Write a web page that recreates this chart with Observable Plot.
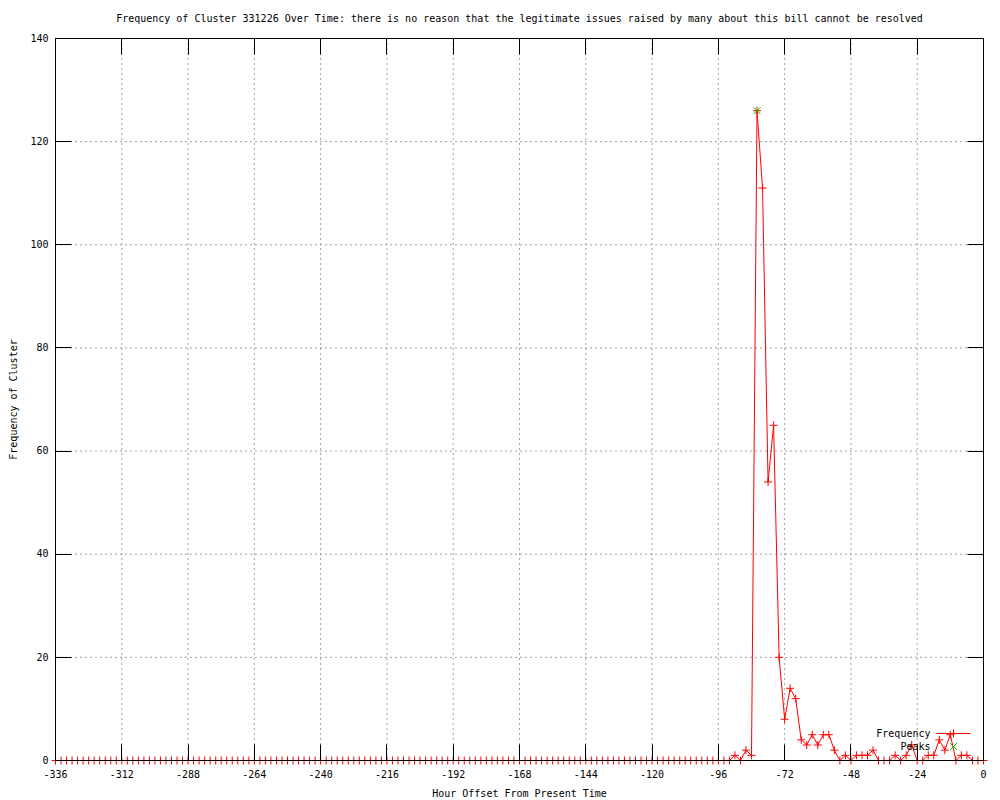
<!DOCTYPE html>
<html>
<head>
<meta charset="utf-8">
<script src="https://cdn.jsdelivr.net/npm/d3@7"></script>
<script src="https://cdn.jsdelivr.net/npm/@observablehq/plot@0.6"></script>
<style>
html, body { margin: 0; padding: 0; background: #fff; }
#chart { width: 1000px; height: 800px; }
</style>
</head>
<body>
<div id="chart"></div>
<script>
// ---- text ----
const titleText = "Frequency of Cluster 331226 Over Time: there is no reason that the legitimate issues raised by many about this bill cannot be resolved";
const xLabelText = "Hour Offset From Present Time";
const yLabelText = "Frequency of Cluster";
const seriesNames = ["Frequency", "Peaks"];

// ---- ticks ----
const xTicks = [-336, -312, -288, -264, -240, -216, -192, -168, -144, -120, -96, -72, -48, -24, 0];
const yTicks = [0, 20, 40, 60, 80, 100, 120, 140];

// ---- data: one value every 2 hours, from -336 to 0 ----
const hourStart = -336;
const hourStep = 2;
const frequency = [
  0, 0, 0, 0, 0, 0, 0, 0, 0, 0, 0, 0,      // -336 .. -314
  0, 0, 0, 0, 0, 0, 0, 0, 0, 0, 0, 0,      // -312 .. -290
  0, 0, 0, 0, 0, 0, 0, 0, 0, 0, 0, 0,      // -288 .. -266
  0, 0, 0, 0, 0, 0, 0, 0, 0, 0, 0, 0,      // -264 .. -242
  0, 0, 0, 0, 0, 0, 0, 0, 0, 0, 0, 0,      // -240 .. -218
  0, 0, 0, 0, 0, 0, 0, 0, 0, 0, 0, 0,      // -216 .. -194
  0, 0, 0, 0, 0, 0, 0, 0, 0, 0, 0, 0,      // -192 .. -170
  0, 0, 0, 0, 0, 0, 0, 0, 0, 0, 0, 0,      // -168 .. -146
  0, 0, 0, 0, 0, 0, 0, 0, 0, 0, 0, 0,      // -144 .. -122
  0, 0, 0, 0, 0, 0, 0, 0, 0, 0, 0, 0,      // -120 .. -98
  0, 0, 0, 1, 0, 2, 1, 126, 111, 54, 65, 20, // -96 .. -74
  8, 14, 12, 4, 3, 5, 3, 5, 5, 2, 0, 1,    // -72 .. -50
  0, 1, 1, 1, 2, 0, 0, 0, 1, 0, 1, 3,      // -48 .. -26
  0, 0, 1, 1, 4, 2, 5, 0, 1, 1, 0, 0,      // -24 .. -2
  0                                        // 0
];
const peakHours = [-82];
const peakValues = [126];

const freqData = frequency.map((v, i) => ({hour: hourStart + i * hourStep, freq: v}));
const peakData = peakHours.map((h, i) => ({hour: h, freq: peakValues[i]}));

// ---- symbols ----
const plusSymbol = {
  draw(ctx, size) {
    const r = Math.sqrt(size / Math.PI);
    ctx.moveTo(-r, 0); ctx.lineTo(r, 0);
    ctx.moveTo(0, -r); ctx.lineTo(0, r);
  }
};
const xSymbol = {
  draw(ctx, size) {
    const r = Math.sqrt(size / Math.PI);
    ctx.moveTo(-r, -r); ctx.lineTo(r, r);
    ctx.moveTo(-r, r); ctx.lineTo(r, -r);
  }
};

const RED = "#ff0000";
const GREEN = "#00c000";
const GRID = "#a0a0a0";
const TICK = 16;

function ticksAndBorder(index, scales, values, dim) {
  const {x, y} = scales;
  const L = dim.marginLeft, R = dim.width - dim.marginRight;
  const T = dim.marginTop, B = dim.height - dim.marginBottom;
  const g = d3.create("svg:g").attr("transform", "translate(0.5,0.5)")
    .attr("stroke", "#000").attr("fill", "none").attr("stroke-width", 1);
  for (const v of xTicks) {
    const px = Math.round(x(v));
    g.append("line").attr("x1", px).attr("x2", px).attr("y1", B).attr("y2", B - TICK);
    g.append("line").attr("x1", px).attr("x2", px).attr("y1", T).attr("y2", T + TICK);
  }
  for (const v of yTicks) {
    const py = Math.round(y(v));
    g.append("line").attr("x1", L).attr("x2", L + TICK).attr("y1", py).attr("y2", py);
    g.append("line").attr("x1", R).attr("x2", R - TICK).attr("y1", py).attr("y2", py);
  }
  g.append("rect").attr("x", L).attr("y", T).attr("width", R - L).attr("height", B - T);
  return g.node();
}

function legend(index, scales, values, dim) {
  const R = dim.width - dim.marginRight;
  const B = dim.height - dim.marginBottom;
  const g = d3.create("svg:g").attr("transform", "translate(0.5,0.5)");
  const rows = [
    {name: seriesNames[0], y: B - 27, kind: "line"},
    {name: seriesNames[1], y: B - 14, kind: "x"}
  ];
  for (const r of rows) {
    g.append("text").attr("x", R - 53).attr("y", r.y).attr("dy", "0.32em")
      .attr("text-anchor", "end").attr("fill", "#000").attr("stroke", "none").text(r.name);
    const cx = R - 30;
    if (r.kind === "line") {
      g.append("path").attr("d", `M${R - 47},${r.y}H${R - 13}M${cx},${r.y - 4}V${r.y + 4}`)
        .style("stroke", RED).style("fill", "none").style("stroke-width", "1px");
    } else {
      g.append("path").attr("d", `M${cx - 3.5},${r.y - 3.5}L${cx + 3.5},${r.y + 3.5}M${cx - 3.5},${r.y + 3.5}L${cx + 3.5},${r.y - 3.5}`)
        .style("stroke", GREEN).style("fill", "none").style("stroke-width", "1px");
    }
  }
  return g.node();
}

const chart = Plot.plot({
  width: 1000,
  height: 800,
  marginLeft: 55,
  marginRight: 17,
  marginTop: 38,
  marginBottom: 40,
  style: {fontFamily: "'DejaVu Sans Mono', monospace", fontSize: "10px", background: "#fff", color: "#000", overflow: "visible"},
  x: {domain: [-336, 0], ticks: xTicks, tickFormat: d => String(d), tickSize: 0, tickPadding: 10, label: null},
  y: {domain: [0, 140], ticks: yTicks, tickFormat: d => String(d), tickSize: 0, tickPadding: 7, label: null},
  marks: [
    Plot.ruleX(xTicks, {stroke: GRID, strokeDasharray: "2,3"}),
    Plot.ruleY(yTicks, {stroke: GRID, strokeDasharray: "2,3"}),
    Plot.line(freqData, {x: "hour", y: "freq", stroke: RED, strokeWidth: 1}),
    Plot.dot(freqData, {x: "hour", y: "freq", symbol: plusSymbol, r: 4, stroke: RED, fill: "none", strokeWidth: 1}),
    Plot.dot(peakData, {x: "hour", y: "freq", symbol: xSymbol, r: 3.5, stroke: GREEN, fill: "none", strokeWidth: 1}),
    ticksAndBorder,
    legend,
    Plot.text([titleText], {frameAnchor: "top", dy: -20, lineAnchor: "middle", textAnchor: "middle", fill: "#000"}),
    Plot.text([xLabelText], {frameAnchor: "bottom", dy: 33, lineAnchor: "middle", textAnchor: "middle", fill: "#000"}),
    Plot.text([yLabelText], {frameAnchor: "left", dx: -42, rotate: -90, lineAnchor: "middle", textAnchor: "middle", fill: "#000"})
  ]
});
document.getElementById("chart").appendChild(chart);
</script>
</body>
</html>
